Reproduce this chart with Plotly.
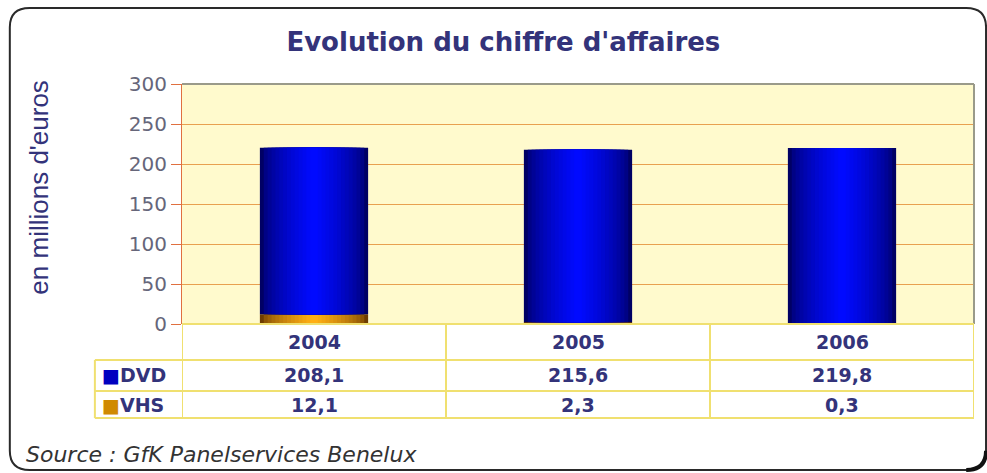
import plotly.graph_objects as go

# ---------------------------
# Data
# ---------------------------
years = ["2004", "2005", "2006"]
dvd = [208.1, 215.6, 219.8]
vhs = [12.1, 2.3, 0.3]
series_names = ["DVD", "VHS"]
y_ticks = [0, 50, 100, 150, 200, 250, 300]

TITLE = "Evolution du chiffre d'affaires"
Y_TITLE = "en millions d'euros"
SOURCE = "Source : GfK Panelservices Benelux"

NAVY = "#33337a"
GRID = "#e8a050"
TABLE_LINE = "#f0e070"
BAR_W = 0.41
STEPS = 14


def fmt(v):
    return f"{v:.1f}".replace(".", ",")


def mix(c1, c2, t):
    return "rgb(%d,%d,%d)" % tuple(round(a + (b - a) * t) for a, b in zip(c1, c2))


x_idx = list(range(len(years)))
fig = go.Figure()

# VHS at the bottom: nested bars make a dark-edge -> bright-centre gradient
for s in range(STEPS):
    t = s / (STEPS - 1)
    fig.add_trace(go.Bar(
        x=x_idx, y=vhs, width=BAR_W * (1 - 0.93 * t),
        marker=dict(color=mix((110, 60, 0), (255, 175, 20), t ** 0.6), line=dict(width=0)),
        showlegend=False, hoverinfo="skip"
    ))

# DVD stacked on VHS, same trick
for s in range(STEPS):
    t = s / (STEPS - 1)
    fig.add_trace(go.Bar(
        x=x_idx, y=dvd, base=vhs, width=BAR_W * (1 - 0.93 * t),
        marker=dict(color=mix((0, 0, 100), (0, 10, 255), t ** 0.6), line=dict(width=0)),
        showlegend=False, hoverinfo="skip"
    ))

fig.update_layout(
    width=987, height=473,
    margin=dict(l=182, r=13, t=84, b=149),
    barmode="overlay",
    paper_bgcolor="white",
    plot_bgcolor="#fffacd",
    font=dict(family="DejaVu Sans", color=NAVY),
    title=dict(
        text=f"<b>{TITLE}</b>", x=0.51, xanchor="center", y=0.912, yanchor="middle",
        font=dict(family="DejaVu Sans", size=26, color=NAVY)
    ),
    xaxis=dict(
        range=[-0.5, 2.5], showticklabels=False,
        showgrid=False, zeroline=False, showline=False
    ),
    yaxis=dict(
        range=[0, 300], tickvals=y_ticks, ticks="outside", ticklen=10,
        tickcolor="#e07040", tickwidth=1,
        tickfont=dict(family="DejaVu Sans", size=20, color="#66667a"),
        showgrid=True, gridcolor=GRID, gridwidth=1,
        showline=True, linecolor="#e07040", linewidth=1,
        zeroline=False
    ),
)

# top / right border of plot area
fig.add_shape(type="line", xref="paper", yref="paper", x0=0, x1=1, y0=1, y1=1,
              line=dict(color="#9a9a8a", width=2))
fig.add_shape(type="line", xref="paper", yref="paper", x0=1, x1=1, y0=0, y1=1,
              line=dict(color="#9a9a8a", width=2))

# ---------------------------
# Data table under the chart
# ---------------------------
row_edges = [0, -0.15, -0.279, -0.392]
label_x0 = -0.11

fig.add_shape(type="line", xref="paper", yref="paper", x0=0, x1=1, y0=row_edges[0], y1=row_edges[0],
              line=dict(color=TABLE_LINE, width=2))
for ye in row_edges[1:]:
    fig.add_shape(type="line", xref="paper", yref="paper", x0=label_x0, x1=1, y0=ye, y1=ye,
                  line=dict(color=TABLE_LINE, width=2))
for i in range(len(years) + 1):
    fig.add_shape(type="line", xref="x", yref="paper", x0=i - 0.5, x1=i - 0.5,
                  y0=row_edges[-1], y1=row_edges[0], line=dict(color=TABLE_LINE, width=2))
fig.add_shape(type="line", xref="paper", yref="paper", x0=label_x0, x1=label_x0,
              y0=row_edges[-1], y1=row_edges[1], line=dict(color=TABLE_LINE, width=2))

cell_font = dict(family="DejaVu Sans", size=19, color=NAVY)
rows = [years, [fmt(v) for v in dvd], [fmt(v) for v in vhs]]
for r, row in enumerate(rows):
    yc = (row_edges[r] + row_edges[r + 1]) / 2
    for i, txt in enumerate(row):
        fig.add_annotation(x=i, y=yc, xref="x", yref="paper", xanchor="center", yanchor="middle",
                           text=f"<b>{txt}</b>", showarrow=False, font=cell_font)

swatches = ["#0000c0", "#d08a00"]
for k, name in enumerate(series_names):
    yc = (row_edges[k + 1] + row_edges[k + 2]) / 2
    fig.add_annotation(x=label_x0 + 0.006, y=yc, xref="paper", yref="paper",
                       xanchor="left", yanchor="middle",
                       text=f"<span style='color:{swatches[k]};font-size:19px'>■</span><b>{name}</b>",
                       showarrow=False, font=cell_font)

# axis title and source
fig.add_annotation(x=-0.18, y=0.57, xref="paper", yref="paper", xanchor="center", yanchor="middle",
                   text=Y_TITLE, textangle=-90, showarrow=False,
                   font=dict(family="Liberation Sans", size=26, color=NAVY))
fig.add_annotation(x=-0.2, y=-0.545, xref="paper", yref="paper", xanchor="left", yanchor="middle",
                   text=f"<i>{SOURCE}</i>", showarrow=False,
                   font=dict(family="DejaVu Sans", size=22, color="#333333"))

# rounded outer frame
x0, x1, y0, y1 = -0.2174, 1.0152, -0.6083, 1.3167
rx, ry = 0.025, 0.08
frame = (f"M {x0+rx},{y1} L {x1-rx},{y1} Q {x1},{y1} {x1},{y1-ry} "
         f"L {x1},{y0+ry} Q {x1},{y0} {x1-rx},{y0} L {x0+rx},{y0} "
         f"Q {x0},{y0} {x0},{y0+ry} L {x0},{y1-ry} Q {x0},{y1} {x0+rx},{y1} Z")
fig.add_shape(type="path", xref="paper", yref="paper", path=frame,
              line=dict(color="#2a2a2a", width=2))
# heavier shadow on the bottom-right corner, following the frame curve
corner = f"M {x1},{y0+ry} Q {x1},{y0} {x1-rx},{y0}"
fig.add_shape(type="path", xref="paper", yref="paper", path=corner,
              line=dict(color="#111111", width=4))

fig.write_html("out.html", config={"displayModeBar": False},
               post_script="document.body.style.margin='0';")
